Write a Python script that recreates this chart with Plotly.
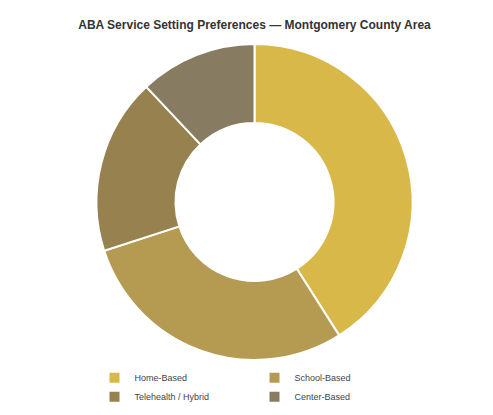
import plotly.graph_objects as go

labels = ["Home-Based", "School-Based", "Telehealth / Hybrid", "Center-Based"]
values = [41, 29, 18, 12]
colors = ["#D9B84A", "#B59B52", "#97814F", "#877B62"]

fig = go.Figure(go.Pie(
    labels=labels, values=values, hole=0.5, sort=False, direction="clockwise",
    rotation=0, marker=dict(colors=colors, line=dict(color="white", width=2)),
    textinfo="none", hoverinfo="label+percent"))
fig.update_layout(
    width=493, height=415, paper_bgcolor="white",
    font=dict(family="Arial, Liberation Sans, sans-serif", size=10, color="#333"),
    title=dict(text="<b>ABA Service Setting Preferences — Montgomery County Area</b>",
               x=0.5, y=0.97, yanchor="top", xanchor="center", font=dict(size=12, color="#333")),
    margin=dict(l=20, r=20, t=36, b=50),
    legend=dict(orientation="h", x=0.5, xanchor="center", y=-0.01, yanchor="top",
                entrywidth=115, font=dict(size=9, color="#444")),
)
fig.write_html("out.html")
